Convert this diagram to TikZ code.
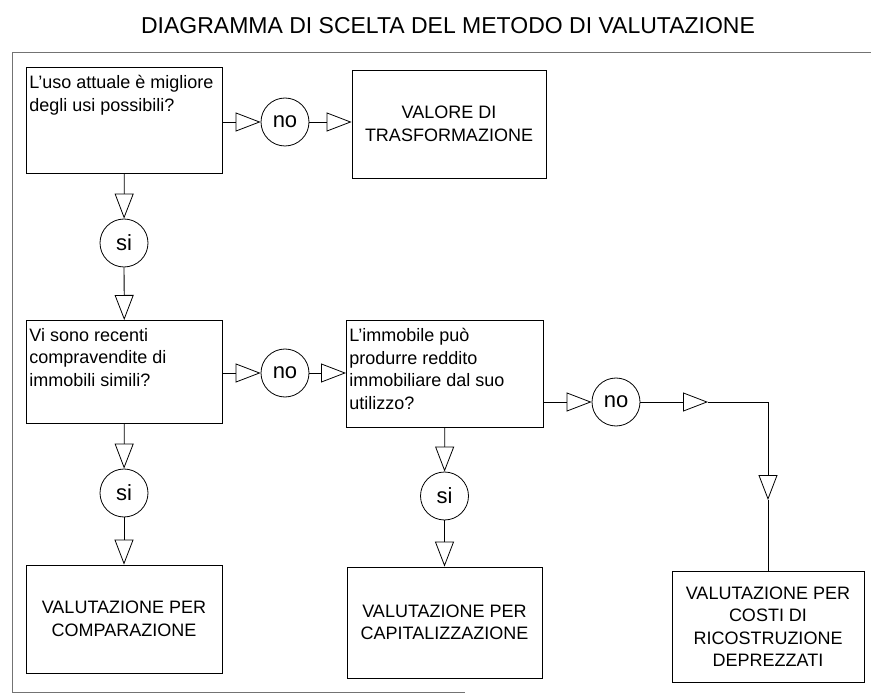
\documentclass[tikz,border=0pt]{standalone}
\usepackage{fontspec}
\setmainfont{Liberation Sans}
\usepackage{tikz}
\usetikzlibrary{arrows.meta}
\newcommand{\qtxt}[3]{\parbox[t][#2][t]{#1}{\raggedright #3}}

\begin{document}
\begin{tikzpicture}[x=1pt,y=-1pt,line width=0.8pt,
every node/.style={font=\fontsize{18}{22.5}\selectfont},
qbox/.style={draw,anchor=north west,inner xsep=3pt,inner ysep=8pt},
rbox/.style={draw,align=center,inner sep=2pt},
ans/.style={draw,circle,minimum size=48pt,inner sep=0pt,font=\fontsize{22}{26}\selectfont},
tri/.style={-{Triangle[open,length=25pt,width=19pt]}}]
\useasboundingbox(0,0)rectangle(871,695);
\draw[black!55,line width=0.6pt](871,52)--(12,52)--(12,692)--(465,692);
\node[font=\fontsize{23}{27}\selectfont](title)at(448,26){DIAGRAMMA DI SCELTA DEL METODO DI VALUTAZIONE};
\node[qbox](q1)at(26,67){\qtxt{190pt}{90pt}{L'uso attuale è migliore\\degli usi possibili?}};
\node[rbox,minimum width=194pt,minimum height=108pt](a1)at(449,124){VALORE DI\\TRASFORMAZIONE};
\node[ans](no1)at(285,122){no};
\node[ans](si1)at(124,243){si};
\node[qbox](q2)at(26,320){\qtxt{190pt}{87pt}{Vi sono recenti\\compravendite di\\immobili simili?}};
\node[ans](no2)at(285,373){no};
\node[qbox](q3)at(346,320){\qtxt{191pt}{91pt}{L'immobile può\\produrre reddito\\immobiliare dal suo\\utilizzo?}};
\node[ans](no3)at(616,402){no};
\node[ans](si2)at(124,493){si};
\node[ans](si3)at(444.5,496){si};
\node[rbox,minimum width=196pt,minimum height=108pt](r1)at(124,619){VALUTAZIONE PER\\COMPARAZIONE};
\node[rbox,minimum width=195pt,minimum height=111pt](r2)at(444.5,622.5){VALUTAZIONE PER\\CAPITALIZZAZIONE};
\node[rbox,minimum width=192pt,minimum height=111pt](r3)at(768,626.5){VALUTAZIONE PER\\COSTI DI\\RICOSTRUZIONE\\DEPREZZATI};
\coordinate(k1)at(708,402);
\coordinate(k2)at(768,402);
\coordinate(k3)at(768,500);
\draw[tri](q1.east|-no1)--(no1);
\draw[tri](no1)--(no1-|a1.west);
\draw[tri](q1)--(si1);
\draw[tri](si1)--(q2);
\draw[tri](q2.east|-no2)--(no2);
\draw[tri](no2)--(no2-|q3.west);
\draw[tri](q2)--(si2);
\draw[tri](si2)--(r1);
\draw[tri](q3)--(si3);
\draw[tri](si3)--(r2);
\draw[tri](q3.east|-no3)--(no3);
\draw[tri](no3)--(k1);
\draw(k1)--(k2);
\draw[tri](k2)--(k3);
\draw(k3)--(r3);
\end{tikzpicture}
\end{document}
